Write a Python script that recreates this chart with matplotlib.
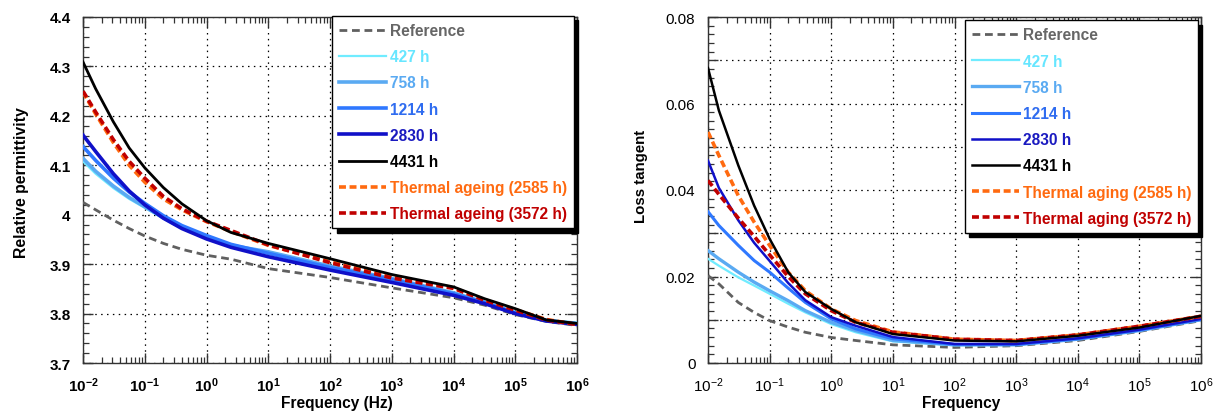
import numpy as np
import matplotlib
matplotlib.use("Agg")
import matplotlib.pyplot as plt
from matplotlib.ticker import FixedLocator, FuncFormatter, LogLocator, NullFormatter

plt.rcParams['font.family'] = ['Liberation Sans', 'DejaVu Sans']
plt.rcParams['mathtext.fontset'] = 'custom'
plt.rcParams['mathtext.rm'] = 'Liberation Sans'
plt.rcParams['mathtext.bf'] = 'Liberation Sans:bold'

# ---------------- data ----------------
labels_left = ["Reference", "427 h", "758 h", "1214 h", "2830 h", "4431 h",
               "Thermal ageing (2585 h)", "Thermal ageing (3572 h)"]
labels_right = ["Reference", "427 h", "758 h", "1214 h", "2830 h", "4431 h",
                "Thermal aging (2585 h)", "Thermal aging (3572 h)"]

freq_left = [0.01, 0.016, 0.031, 0.056, 0.1, 0.2, 0.4, 1, 2.5, 10, 100, 1e3, 1e4, 3.2e4, 1e5, 3.2e5, 1e6]
perm_ref = [4.025, 4.010, 3.989, 3.972, 3.957, 3.942, 3.930, 3.918, 3.910, 3.891, 3.873, 3.852, 3.832, 3.817, 3.798, 3.784, 3.776]
perm_427 = [4.108, 4.083, 4.054, 4.032, 4.014, 3.992, 3.972, 3.953, 3.937, 3.924, 3.895, 3.870, 3.842, 3.823, 3.803, 3.787, 3.782]
perm_758 = [4.114, 4.088, 4.058, 4.035, 4.016, 3.994, 3.974, 3.954, 3.938, 3.925, 3.896, 3.871, 3.842, 3.823, 3.802, 3.786, 3.780]
perm_1214 = [4.138, 4.110, 4.074, 4.046, 4.023, 3.998, 3.978, 3.958, 3.940, 3.922, 3.893, 3.869, 3.840, 3.822, 3.801, 3.786, 3.779]
perm_2830 = [4.161, 4.128, 4.083, 4.048, 4.020, 3.993, 3.972, 3.951, 3.934, 3.915, 3.888, 3.863, 3.837, 3.820, 3.800, 3.785, 3.778]
perm_4431 = [4.309, 4.255, 4.188, 4.135, 4.095, 4.055, 4.022, 3.988, 3.964, 3.942, 3.911, 3.879, 3.854, 3.830, 3.810, 3.787, 3.780]
perm_2585 = [4.248, 4.204, 4.146, 4.100, 4.066, 4.032, 4.010, 3.986, 3.966, 3.938, 3.905, 3.875, 3.852, 3.828, 3.808, 3.788, 3.778]
perm_3572 = [4.250, 4.208, 4.152, 4.108, 4.074, 4.037, 4.012, 3.987, 3.968, 3.939, 3.903, 3.872, 3.851, 3.827, 3.807, 3.787, 3.778]

freq_right = [0.01, 0.015, 0.031, 0.056, 0.1, 0.2, 0.38, 1, 2.5, 10, 100, 1e3, 1e4, 1e5, 1e6]
tan_ref = [0.0202, 0.0183, 0.0140, 0.0117, 0.0098, 0.0083, 0.0071, 0.0059, 0.0052, 0.0042, 0.0036, 0.0040, 0.0052, 0.0073, 0.0098]
tan_427 = [0.0241, 0.0225, 0.0198, 0.0179, 0.0160, 0.0137, 0.0117, 0.0090, 0.0071, 0.0050, 0.0041, 0.0042, 0.0055, 0.0075, 0.0100]
tan_758 = [0.0260, 0.0241, 0.0210, 0.0187, 0.0167, 0.0144, 0.0121, 0.0094, 0.0075, 0.0052, 0.0042, 0.0042, 0.0055, 0.0075, 0.0100]
tan_1214 = [0.0350, 0.0318, 0.0272, 0.0237, 0.0210, 0.0173, 0.0140, 0.0102, 0.0079, 0.0056, 0.0043, 0.0043, 0.0056, 0.0076, 0.0101]
tan_2830 = [0.0468, 0.0405, 0.0330, 0.0278, 0.0236, 0.0185, 0.0145, 0.0106, 0.0086, 0.0060, 0.0044, 0.0044, 0.0057, 0.0077, 0.0102]
tan_4431 = [0.0682, 0.0584, 0.0457, 0.0364, 0.0287, 0.0210, 0.0164, 0.0125, 0.0094, 0.0067, 0.0052, 0.0050, 0.0063, 0.0082, 0.0109]
tan_2585 = [0.0534, 0.0480, 0.0387, 0.0326, 0.0272, 0.0210, 0.0167, 0.0125, 0.0098, 0.0072, 0.0055, 0.0052, 0.0065, 0.0085, 0.0108]
tan_3572 = [0.0422, 0.0390, 0.0335, 0.0293, 0.0250, 0.0200, 0.0160, 0.0121, 0.0094, 0.0071, 0.0055, 0.0052, 0.0065, 0.0085, 0.0108]

# ---------------- styles ----------------
colors = ["#606060", "#70ecff", "#5aaaf2", "#2f78ff", "#1010c8", "#000000", "#ff6a10", "#c00000"]
text_colors = ["#666666", "#66e6ff", "#5aaaf2", "#2f6cf0", "#1a1ac0", "#000000", "#ff6a10", "#c00000"]
styles = ["--", "-", "-", "-", "-", "-", "--", "--"]
lw_left = [2.0, 1.6, 2.6, 2.6, 2.6, 2.0, 2.6, 2.6]
lw_right = [2.0, 1.6, 2.4, 2.2, 1.8, 1.8, 2.6, 2.6]

fig = plt.figure(figsize=(12.2, 4.14), dpi=100)
axL = fig.add_axes([83/1220, 50/414, 494/1220, 346/414])
axR = fig.add_axes([708/1220, 50/414, 493/1220, 346/414])

left_series = [perm_ref, perm_427, perm_758, perm_1214, perm_2830, perm_4431, perm_2585, perm_3572]
right_series = [tan_ref, tan_427, tan_758, tan_1214, tan_2830, tan_4431, tan_2585, tan_3572]
draw_order = [0, 1, 2, 3, 4, 6, 7, 5]


def dash_for(i, lw):
    if styles[i] != '--':
        return (None, None)
    return (5.0 / lw, 2.6 / lw) if i != 0 else (5.6 / lw, 3.4 / lw)


def style_axes(ax, bold):
    ax.set_xscale('log')
    ax.set_xlim(1e-2, 1e6)
    ax.xaxis.set_major_locator(LogLocator(base=10, numticks=20))
    ax.xaxis.set_minor_locator(LogLocator(base=10, subs=np.arange(2, 10), numticks=100))
    ax.xaxis.set_minor_formatter(NullFormatter())
    if bold:
        fmt = FuncFormatter(lambda v, p: r'$\mathbf{10^{%d}}$' % int(round(np.log10(v))))
    else:
        fmt = FuncFormatter(lambda v, p: r'$\mathrm{10^{%d}}$' % int(round(np.log10(v))))
    ax.xaxis.set_major_formatter(fmt)
    ax.tick_params(which='both', direction='in', top=True, right=True, colors='#333333',
                   labelcolor='black')
    ax.tick_params(which='major', length=7, width=1.0, labelsize=11, pad=9)
    ax.tick_params(which='minor', length=4.5, width=0.9)
    for s in ax.spines.values():
        s.set_color('#333333')
        s.set_linewidth(1.0)
    ax.grid(True, which='major', linestyle=(0, (1.2, 3.5)), color='black', linewidth=0.9)
    for lab in ax.get_xticklabels() + ax.get_yticklabels():
        lab.set_fontweight('bold' if bold else 'normal')


# left
for i in draw_order:
    axL.plot(freq_left, left_series[i], linestyle=styles[i], color=colors[i], lw=lw_left[i],
             label=labels_left[i], dashes=dash_for(i, lw_left[i]), zorder=3)
axL.set_ylim(3.7, 4.4)
axL.yaxis.set_major_locator(FixedLocator([3.7, 3.8, 3.9, 4.0, 4.1, 4.2, 4.3, 4.4]))
axL.yaxis.set_minor_locator(FixedLocator(np.arange(3.7, 4.401, 0.02)))
axL.yaxis.set_major_formatter(FuncFormatter(lambda v, p: '%g' % round(v, 2)))
style_axes(axL, True)
axL.set_ylabel("Relative permittivity", fontsize=11.4, fontweight='bold')
axL.yaxis.set_label_coords(-0.109, 0.523)
axL.set_xlabel("Frequency (Hz)", fontsize=11.2, fontweight='bold')
axL.xaxis.set_label_coords(0.514, -0.092)

# right
for i in draw_order:
    axR.plot(freq_right, right_series[i], linestyle=styles[i], color=colors[i], lw=lw_right[i],
             label=labels_right[i], dashes=dash_for(i, lw_right[i]), zorder=3)
axR.set_ylim(0, 0.08)
axR.yaxis.set_major_locator(FixedLocator(np.round(np.arange(0, 0.0801, 0.01), 3)))
axR.yaxis.set_minor_locator(FixedLocator(np.arange(0, 0.0801, 0.002)))
axR.yaxis.set_major_formatter(FuncFormatter(
    lambda v, p: ('%g' % round(v, 3)) if int(round(v * 100)) % 2 == 0 else ''))
style_axes(axR, False)
axR.set_ylabel("Loss tangent", fontsize=10.8, fontweight='bold')
axR.yaxis.set_label_coords(-0.122, 0.543)
axR.set_xlabel("Frequency", fontsize=11.2, fontweight='bold')
axR.xaxis.set_label_coords(0.514, -0.092)


def make_legend(ax, labels, anchor):
    handles, labs = ax.get_legend_handles_labels()
    order = [labs.index(l) for l in labels]
    leg = ax.legend([handles[k] for k in order], [labs[k] for k in order],
                    loc='upper right', bbox_to_anchor=anchor, borderaxespad=0,
                    handlelength=3.0, handletextpad=0.25, labelspacing=0.72,
                    borderpad=0.45, fancybox=False, framealpha=1, edgecolor='black',
                    shadow={'color': 'black', 'alpha': 1, 'ox': 3, 'oy': -3},
                    prop={'weight': 'bold', 'size': 11.2})
    leg.get_frame().set_linewidth(1.0)
    for t, c in zip(leg.get_texts(), text_colors):
        t.set_color(c)
    leg.set_zorder(10)
    return leg


make_legend(axL, labels_left, (0.994, 1.003))
make_legend(axR, labels_right, (0.994, 0.99))

fig.savefig("out.png", dpi=100)
